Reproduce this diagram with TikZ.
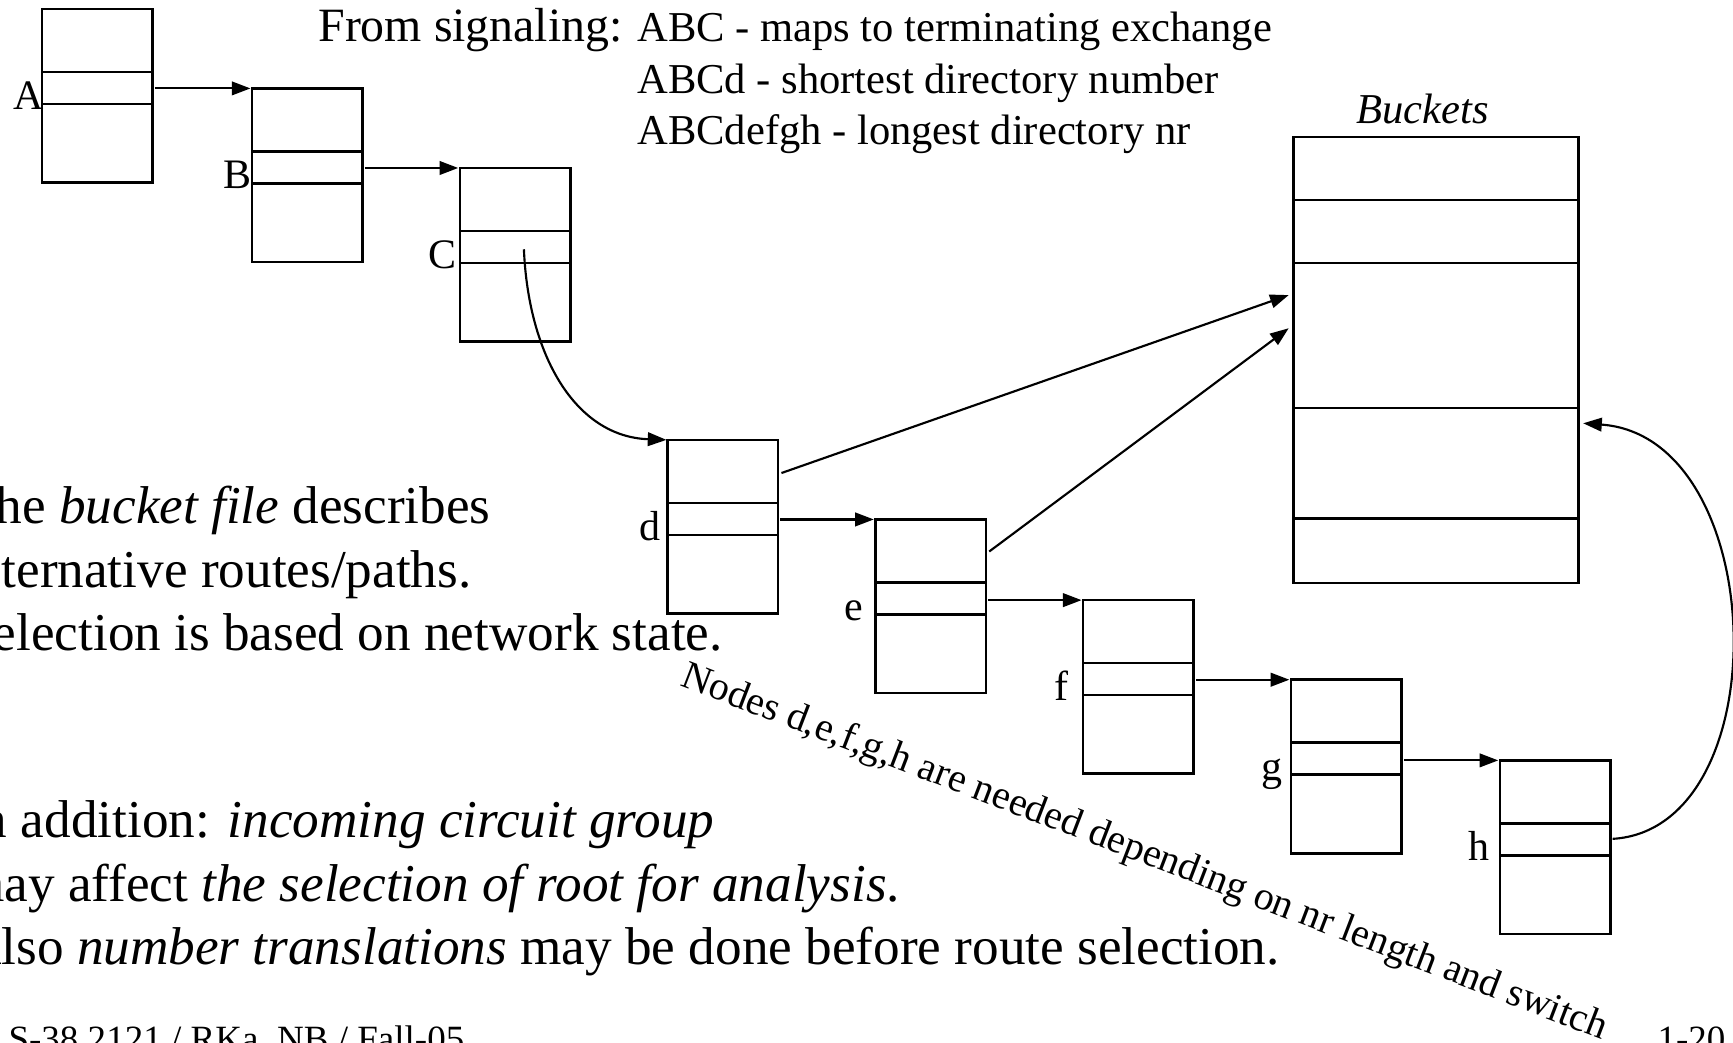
\documentclass[tikz,border=0pt]{standalone}
\usepackage{fontspec}
\setmainfont{Liberation Serif}
\usetikzlibrary{arrows.meta,calc,positioning}
\tikzset{listbox/.style={draw,line width=0.65pt,minimum width=1cm,minimum height=1.57cm,inner sep=0pt,outer sep=0pt,anchor=north west}}
\tikzset{lbl/.style={inner sep=0pt,font=\fontsize{10.8}{13}\selectfont,anchor=base east}}
\tikzset{arr/.style={-{Triangle[length=4.8pt,width=3.5pt]},line width=0.55pt}}
\tikzset{txt/.style={inner sep=0pt,anchor=base west}}
\newcommand\topfont{\fontsize{10.95}{13.2}\selectfont}
\newcommand\bigfont{\fontsize{13.69}{16.4}\selectfont}

\begin{document}
\begin{tikzpicture}[x=0.01cm,y=-0.01cm]
\useasboundingbox (0,0) rectangle (1568,943);
\clip (0,0) rectangle (1568,943);
% digit tables
\foreach \n/\x/\y/\o in {A/38/8/2,B/228/80/0,C/416/152/-2,d/604/398/-6,e/792/470/-10,f/980/543/-13,g/1168/615/-7,h/1357/688/-9}{
\node[listbox] (\n) at (\x,\y) {};
\draw[line width=0.65pt] (\x,\y+57)--(\x+100,\y+57);
\draw[line width=0.65pt] (\x,\y+86)--(\x+100,\y+86);
\node[lbl] (\n-lbl) at (\x+\o,\y+91) {\n};
}
\foreach \a/\b in {A/B,B/C,d/e,e/f,f/g,g/h}
\draw[arr,shorten <=0.6pt,shorten >=0.4pt] (\a.east |- \b.north west)--(\b.north west);
% buckets
\node[draw,line width=0.65pt,minimum width=2.58cm,minimum height=4.03cm,inner sep=0pt,anchor=north west] (bkt) at (1169,123) {};
\foreach \dy in {58,115,246,346}
\draw[line width=0.65pt] (1169,123+\dy)--(1427,123+\dy);
\node[txt,anchor=base,font=\topfont\itshape] (bkt-title) at (1287,112) {Buckets};
\draw[arr] ($(C.center)+(8,-5)$) .. controls +(4,95) and +(-83,-3) .. ($(d.north west)+(-1,0)$);
\draw[arr] ($(d.north east)+(3,30)$)--($(bkt.north west)+(-3,144)$);
\draw[arr] ($(e.north east)+(3,29)$)--($(bkt.north west)+(-3,174)$);
\draw[arr] ($(h.north east)+(2,71)$) .. controls +(152,-9) and +(170,12) .. ($(bkt.north east)+(3,260)$);
% signaling
\node[txt,anchor=base east,font=\fontsize{12.3}{14}\selectfont] (src) at (564,38) {From signaling:};
\node[txt,font=\topfont] (map1) at (576,38) {ABC - maps to terminating exchange};
\node[txt,font=\topfont] (map2) at (576,84.5) {ABCd - shortest directory number};
\node[txt,font=\topfont] (map3) at (576,131) {ABCdefgh - longest directory nr};
% slide text
\node[txt,font=\bigfont] (t1) at (-34,474) {The \textit{bucket file} describes};
\node[txt,font=\bigfont] (t2) at (-34,531.5) {alternative routes/paths.};
\node[txt,font=\bigfont] (t3) at (-34,589) {Selection is based on network state.};
\node[txt,font=\bigfont] (t4) at (-34,758) {In addition: \textit{incoming circuit group}};
\node[txt,font=\bigfont] (t5) at (-34,816) {may affect \textit{the selection of root for analysis}.};
\node[txt,font=\bigfont] (t6) at (-34,873) {Also \textit{number translations} may be done before route selection.};
\node[txt,rotate=-21,font=\fontsize{10.3}{12}\selectfont] (note) at (614,620) {Nodes d,e,f,g,h are needed depending on nr length and switch};
% footer
\node[txt,font=\fontsize{9.53}{11}\selectfont] (foot) at (7,951) {S-38.2121 / RKa, NB / Fall-05};
\node[txt,font=\fontsize{9.53}{11}\selectfont] (page) at (1499,951) {1-20};
\end{tikzpicture}
\end{document}
